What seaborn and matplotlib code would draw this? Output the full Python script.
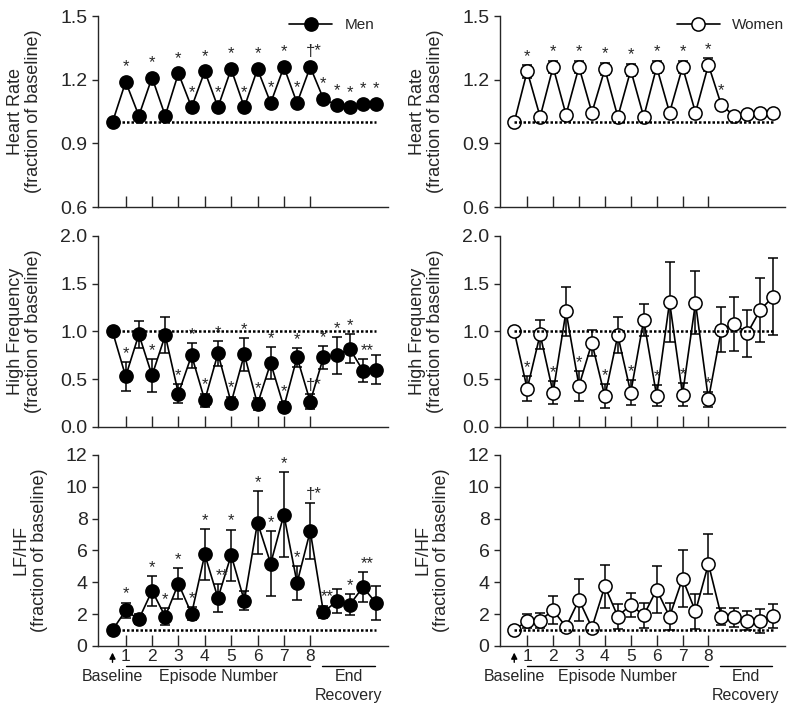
import matplotlib
matplotlib.use('Agg')
import matplotlib.pyplot as plt
import matplotlib.transforms as mtransforms
import seaborn as sns
import pandas as pd

# x index: 0 = baseline, 1..15 = episodes (odd = during episode), 16..20 = end recovery
idx = list(range(21))
episode_ticks = [1, 3, 5, 7, 9, 11, 13, 15]
episode_labels = ['1', '2', '3', '4', '5', '6', '7', '8']

hr_men = [1.00, 1.19, 1.03, 1.21, 1.03, 1.23, 1.07, 1.24, 1.07, 1.25, 1.07,
          1.25, 1.09, 1.26, 1.09, 1.26, 1.11, 1.08, 1.07, 1.085, 1.085]
hr_men_err = [0, 0.01, 0.01, 0.01, 0.01, 0.015, 0.01, 0.015, 0.01, 0.015, 0.01,
              0.015, 0.01, 0.02, 0.01, 0.02, 0.01, 0.01, 0.01, 0.01, 0.01]
hr_men_stars = {1: '*', 3: '*', 5: '*', 6: '*', 7: '*', 8: '*', 9: '*', 10: '*',
                11: '*', 12: '*', 13: '*', 14: '*', 15: '†*', 16: '*', 17: '*',
                18: '*', 19: '*', 20: '*'}

hr_women = [1.00, 1.24, 1.025, 1.26, 1.035, 1.26, 1.045, 1.25, 1.025, 1.245, 1.025,
            1.26, 1.045, 1.26, 1.045, 1.27, 1.08, 1.03, 1.04, 1.045, 1.045]
hr_women_err = [0, 0.03, 0.01, 0.03, 0.01, 0.03, 0.01, 0.03, 0.01, 0.03, 0.01,
                0.03, 0.01, 0.03, 0.01, 0.03, 0.01, 0.01, 0.01, 0.01, 0.01]
hr_women_stars = {1: '*', 3: '*', 5: '*', 7: '*', 9: '*', 11: '*', 13: '*', 15: '*', 16: '*'}

hf_men = [1.00, 0.53, 0.97, 0.54, 0.96, 0.35, 0.75, 0.28, 0.77, 0.255, 0.76,
          0.24, 0.67, 0.21, 0.73, 0.265, 0.73, 0.75, 0.82, 0.59, 0.60]
hf_men_err = [0, 0.15, 0.14, 0.17, 0.19, 0.10, 0.13, 0.07, 0.13, 0.06, 0.17,
              0.06, 0.17, 0.05, 0.10, 0.08, 0.12, 0.19, 0.15, 0.12, 0.15]
hf_men_stars = {1: '*', 3: '*', 5: '*', 6: '*', 7: '*', 8: '*', 9: '*', 10: '*',
                11: '*', 12: '*', 13: '*', 14: '*', 15: '†*', 16: '*', 17: '*',
                18: '*', 19: '**'}

hf_women = [1.00, 0.40, 0.97, 0.36, 1.21, 0.43, 0.88, 0.32, 0.96, 0.36, 1.12,
            0.325, 1.31, 0.34, 1.30, 0.29, 1.02, 1.08, 0.98, 1.225, 1.365]
hf_women_err = [0, 0.13, 0.15, 0.12, 0.26, 0.16, 0.14, 0.125, 0.19, 0.13, 0.165,
                0.11, 0.42, 0.12, 0.33, 0.08, 0.24, 0.28, 0.245, 0.34, 0.40]
hf_women_stars = {1: '*', 3: '*', 5: '*', 7: '*', 9: '*', 11: '*', 13: '*', 15: '*'}

lfhf_men = [1.0, 2.23, 1.68, 3.47, 1.85, 3.92, 2.02, 5.75, 3.01, 5.71, 2.84,
            7.75, 5.18, 8.25, 3.96, 7.22, 2.13, 2.80, 2.59, 3.70, 2.69]
lfhf_men_err = [0, 0.5, 0.3, 0.93, 0.55, 1.0, 0.4, 1.58, 0.87, 1.6, 0.6,
                2.0, 2.05, 2.65, 1.05, 1.75, 0.4, 0.75, 0.65, 0.95, 1.05]
lfhf_men_stars = {1: '*', 3: '*', 4: '*', 5: '*', 6: '*', 7: '*', 8: '**', 9: '*',
                  11: '*', 12: '*', 13: '*', 14: '*', 15: '†*', 16: '**', 18: '*',
                  19: '**'}

lfhf_women = [1.0, 1.58, 1.6, 2.25, 1.2, 2.9, 1.15, 3.75, 1.85, 2.59, 1.92,
              3.54, 1.85, 4.23, 2.17, 5.16, 1.85, 1.79, 1.6, 1.58, 1.9]
lfhf_women_err = [0, 0.45, 0.5, 0.88, 0.2, 1.3, 0.15, 1.35, 0.8, 0.74, 0.8,
                  1.47, 0.87, 1.8, 1.1, 1.87, 0.55, 0.6, 0.6, 0.75, 0.75]
lfhf_women_stars = {}

sns.set_style('ticks')
plt.rcParams['font.family'] = ['Liberation Sans', 'DejaVu Sans']
plt.rcParams['axes.linewidth'] = 1.0

fig = plt.figure(figsize=(8, 7.08), dpi=100)

rows = [
    ('Heart Rate\n(fraction of baseline)', (0.6, 1.5), [0.6, 0.9, 1.2, 1.5], '{:.1f}'),
    ('High Frequency\n(fraction of baseline)', (0.0, 2.0), [0.0, 0.5, 1.0, 1.5, 2.0], '{:.1f}'),
    ('LF/HF\n(fraction of baseline)', (0, 12), [0, 2, 4, 6, 8, 10, 12], '{:d}'),
]
row_bottoms = [0.7076, 0.3969, 0.0876]
col_lefts = [0.1225, 0.625]
col_widths = [0.3625, 0.356]
legend_anchor = [(1.0, 1.06), (1.045, 1.06)]
ax_h = 0.2698

series = [
    [(hr_men, hr_men_err, hr_men_stars), (hr_women, hr_women_err, hr_women_stars)],
    [(hf_men, hf_men_err, hf_men_stars), (hf_women, hf_women_err, hf_women_stars)],
    [(lfhf_men, lfhf_men_err, lfhf_men_stars), (lfhf_women, lfhf_women_err, lfhf_women_stars)],
]
groups = ['Men', 'Women']
face = {'Men': 'black', 'Women': 'white'}

MARKER_R = 6.5  # px


def add_stars(ax, vals, errs, stars):
    for i, txt in stars.items():
        y_top = ax.transData.transform((i, vals[i] + errs[i]))[1]
        y_mid = ax.transData.transform((i, vals[i]))[1]
        top = max(y_top, y_mid + MARKER_R) + 1
        x_px = ax.transData.transform((i + (0.3 if len(txt) > 1 else 0), 0))[0]
        xd, yd = ax.transData.inverted().transform((x_px, top))
        ax.text(xd, yd, txt, ha='center', va='bottom', fontsize=12)


for r, (ylab, ylim, yticks, fmt) in enumerate(rows):
    for c, g in enumerate(groups):
        ax = fig.add_axes([col_lefts[c], row_bottoms[r], col_widths[c], ax_h])
        vals, errs, stars = series[r][c]
        df = pd.DataFrame({'x': idx, 'y': vals})
        ax.errorbar(idx, vals, yerr=errs, fmt='none', ecolor='black',
                    elinewidth=1.1, capsize=3.5, capthick=1.1, zorder=1)
        sns.lineplot(data=df, x='x', y='y', ax=ax, color='black', lw=1.2,
                     marker='o', markersize=9.5, markerfacecolor=face[g],
                     markeredgecolor='black', markeredgewidth=1.1,
                     label=g if r == 0 else None, zorder=2)
        ax.hlines(1, idx[0], idx[-1], colors='black', linestyles=(0, (1, 0.8)),
                  lw=1.8, zorder=3)
        ax.set_xlim(-1.1, 20.9)
        ax.set_ylim(*ylim)
        ax.set_yticks(yticks)
        ax.set_yticklabels([fmt.format(t) for t in yticks])
        ax.set_xticks(episode_ticks)
        if r == 2:
            ax.set_xticklabels(episode_labels, fontsize=12.5)
        else:
            ax.set_xticklabels([])
        ax.tick_params(axis='x', direction='in', length=8, width=1, pad=2)
        ax.tick_params(axis='y', direction='out', length=4, width=1, labelsize=14)
        sns.despine(ax=ax)
        ax.set_xlabel('')
        ax.set_ylabel(ylab, fontsize=13, labelpad=13, linespacing=1.1)
        if r == 0:
            ax.legend(loc='upper right', frameon=False, fontsize=11,
                      handlelength=2.8, bbox_to_anchor=legend_anchor[c])
        add_stars(ax, vals, errs, stars)
        if r == 2:
            tr = mtransforms.blended_transform_factory(ax.transData, ax.transAxes)
            ax.annotate('', xy=(0, -0.02), xytext=(0, -0.1), xycoords=tr,
                        textcoords=tr, annotation_clip=False,
                        arrowprops=dict(arrowstyle='-|>', color='black', lw=1,
                                        mutation_scale=9))
            ax.text(0, -0.16, 'Baseline', transform=tr, ha='center', va='center', fontsize=11.5)
            ax.plot([1, 15], [-0.105, -0.105], transform=tr, color='black', lw=1, clip_on=False)
            ax.text(8, -0.16, 'Episode Number', transform=tr, ha='center', va='center', fontsize=11.5)
            ax.plot([15.9, 19.9], [-0.105, -0.105], transform=tr, color='black', lw=1, clip_on=False)
            ax.text(17.9, -0.16, 'End', transform=tr, ha='center', va='center', fontsize=11.5)
            ax.text(17.9, -0.26, 'Recovery', transform=tr, ha='center', va='center', fontsize=11.5)

fig.savefig('out.png', dpi=100)
